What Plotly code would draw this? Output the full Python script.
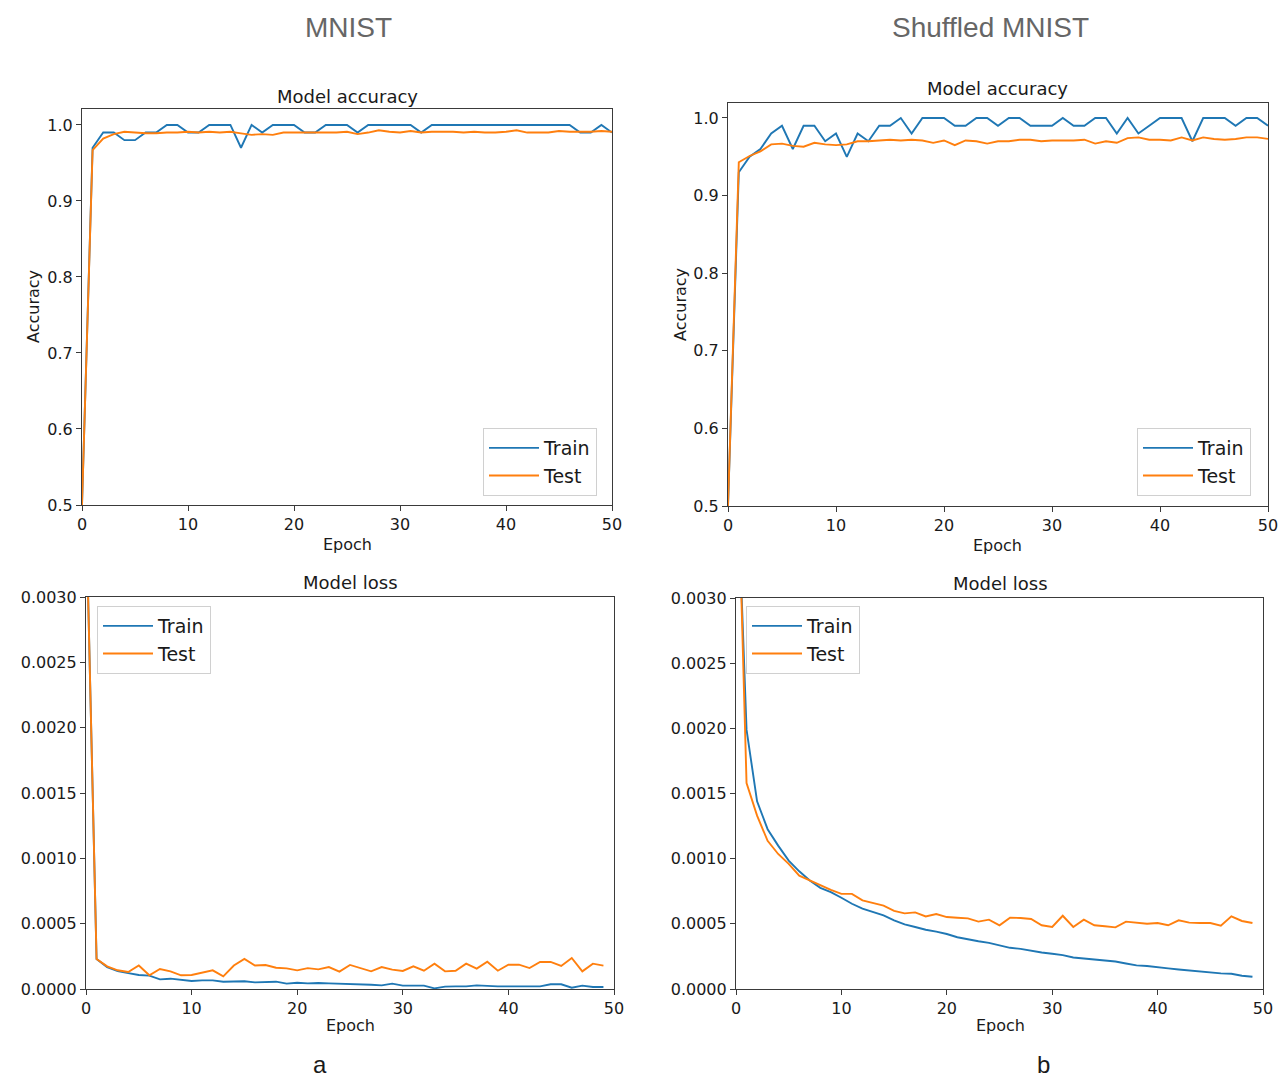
import plotly.graph_objects as go

W, H = 1279, 1078

# ---------------- data ----------------
epochs_acc = list(range(0, 51))
epochs_loss = list(range(0, 50))

mnist_acc_train = [0.5, 0.97, 0.99, 0.99, 0.98, 0.98, 0.99, 0.99, 1.0, 1.0,
                   0.99, 0.99, 1.0, 1.0, 1.0, 0.97, 1.0, 0.99, 1.0, 1.0,
                   1.0, 0.99, 0.99, 1.0, 1.0, 1.0, 0.99, 1.0, 1.0, 1.0,
                   1.0, 1.0, 0.99, 1.0, 1.0, 1.0, 1.0, 1.0, 1.0, 1.0,
                   1.0, 1.0, 1.0, 1.0, 1.0, 1.0, 1.0, 0.99, 0.99, 1.0, 0.99]
mnist_acc_test = [0.5, 0.967, 0.982, 0.988, 0.991, 0.990, 0.989, 0.989, 0.990, 0.990,
                  0.991, 0.990, 0.991, 0.990, 0.991, 0.989, 0.987, 0.988, 0.987, 0.990,
                  0.990, 0.990, 0.990, 0.990, 0.990, 0.991, 0.988, 0.990, 0.993, 0.991,
                  0.990, 0.992, 0.990, 0.991, 0.991, 0.991, 0.990, 0.991, 0.990, 0.990,
                  0.991, 0.993, 0.990, 0.990, 0.990, 0.992, 0.991, 0.991, 0.991, 0.992, 0.991]

shuf_acc_train = [0.5, 0.93, 0.95, 0.96, 0.98, 0.99, 0.96, 0.99, 0.99, 0.97,
                  0.98, 0.95, 0.98, 0.97, 0.99, 0.99, 1.0, 0.98, 1.0, 1.0,
                  1.0, 0.99, 0.99, 1.0, 1.0, 0.99, 1.0, 1.0, 0.99, 0.99,
                  0.99, 1.0, 0.99, 0.99, 1.0, 1.0, 0.98, 1.0, 0.98, 0.99,
                  1.0, 1.0, 1.0, 0.97, 1.0, 1.0, 1.0, 0.99, 1.0, 1.0, 0.99]
shuf_acc_test = [0.5, 0.943, 0.951, 0.957, 0.966, 0.967, 0.964, 0.963, 0.968, 0.966,
                 0.965, 0.966, 0.970, 0.970, 0.971, 0.972, 0.971, 0.972, 0.971, 0.968,
                 0.971, 0.965, 0.971, 0.970, 0.967, 0.970, 0.970, 0.972, 0.972, 0.970,
                 0.971, 0.971, 0.971, 0.972, 0.967, 0.970, 0.968, 0.974, 0.975, 0.972,
                 0.972, 0.971, 0.975, 0.971, 0.975, 0.973, 0.972, 0.973, 0.975, 0.975, 0.973]

mnist_loss_train = [0.0037, 0.00023, 0.000168, 0.000138, 0.000122, 0.000107, 0.000102, 0.000074, 0.000079, 0.000071,
                    0.000061, 0.000066, 0.000066, 0.000056, 0.000056, 0.000059, 0.000051, 0.000054, 0.000056, 0.000041,
                    0.000048, 0.000043, 0.000046, 0.000043, 0.000041, 0.000041, 0.000038, 0.000033, 0.000028, 0.000041,
                    0.000026, 0.000026, 0.000026, 0.000005, 0.000018, 0.00002, 0.00002, 0.000028, 0.000023, 0.00002,
                    0.00002, 0.00002, 0.00002, 0.00002, 0.000036, 0.000036, 0.00001, 0.000026, 0.000015, 0.000015]
mnist_loss_test = [0.0037, 0.00023, 0.000173, 0.000143, 0.00013, 0.00018, 0.000105, 0.000153, 0.000135, 0.000105,
                   0.000107, 0.000125, 0.000143, 0.000097, 0.00018, 0.00023, 0.00018, 0.000184, 0.000163, 0.000158,
                   0.000143, 0.00016, 0.00015, 0.000168, 0.000133, 0.000184, 0.00016, 0.000135, 0.000168, 0.000148,
                   0.000138, 0.000173, 0.00014, 0.000194, 0.000135, 0.00014, 0.000194, 0.000156, 0.000209, 0.00014,
                   0.000186, 0.000186, 0.00016, 0.000207, 0.000207, 0.000176, 0.000237, 0.000135, 0.000194, 0.000179]

shuf_loss_train = [0.0042, 0.00199, 0.00144, 0.001226, 0.0011, 0.000985, 0.000903, 0.000832, 0.000776, 0.000743,
                   0.0007, 0.000654, 0.000616, 0.00059, 0.000565, 0.000527, 0.000496, 0.000476, 0.000455, 0.00044,
                   0.000422, 0.000397, 0.000379, 0.000366, 0.000354, 0.000336, 0.000316, 0.000308, 0.000293, 0.00028,
                   0.00027, 0.00026, 0.000242, 0.000234, 0.000226, 0.000219, 0.000211, 0.000196, 0.000181, 0.000176,
                   0.000165, 0.000158, 0.00015, 0.000142, 0.000137, 0.000125, 0.00012, 0.000117, 0.000102, 0.000094]
shuf_loss_test = [0.0045, 0.00158, 0.00133, 0.001137, 0.001036, 0.00096, 0.00087, 0.000832, 0.0008, 0.00076,
                  0.00073, 0.00073, 0.00068, 0.00066, 0.00064, 0.0006, 0.00058, 0.000588, 0.000557, 0.000575,
                  0.000552, 0.000547, 0.000542, 0.000517, 0.000532, 0.000489, 0.000547, 0.000545, 0.000537, 0.000489,
                  0.000476, 0.000562, 0.000476, 0.000532, 0.000489, 0.000481, 0.000473, 0.000517, 0.000511, 0.000501,
                  0.000506, 0.000489, 0.000527, 0.000509, 0.000506, 0.000506, 0.000486, 0.000557, 0.000522, 0.000506]

acc_ticks = [0.5, 0.6, 0.7, 0.8, 0.9, 1.0]
loss_ticks = [0.0, 0.0005, 0.001, 0.0015, 0.002, 0.0025, 0.003]
epoch_ticks = [0, 10, 20, 30, 40, 50]

BLUE = "#1f77b4"
ORANGE = "#ff7f0e"
FONT = "DejaVu Sans"


def px_x(x):
    return x / W


def px_y(y):
    return 1 - y / H


# panel pixel boxes in page coordinates: (left, top, right, bottom)
panels = {
    "1": (82, 109, 612, 505),
    "2": (728, 103, 1268, 506),
    "3": (86, 597, 614, 989),
    "4": (736, 598, 1263, 989),
}

fig = go.Figure()

series = [
    ("1", epochs_acc, mnist_acc_train, mnist_acc_test, "legend"),
    ("2", epochs_acc, shuf_acc_train, shuf_acc_test, "legend2"),
    ("3", epochs_loss, mnist_loss_train, mnist_loss_test, "legend3"),
    ("4", epochs_loss, shuf_loss_train, shuf_loss_test, "legend4"),
]
for k, xs, tr, te, lg in series:
    xa = "x" if k == "1" else "x" + k
    ya = "y" if k == "1" else "y" + k
    fig.add_trace(go.Scatter(x=xs, y=tr, mode="lines", name="Train",
                             line=dict(color=BLUE, width=1.9), xaxis=xa, yaxis=ya,
                             legend=lg, cliponaxis=True))
    fig.add_trace(go.Scatter(x=xs, y=te, mode="lines", name="Test",
                             line=dict(color=ORANGE, width=1.9), xaxis=xa, yaxis=ya,
                             legend=lg, cliponaxis=True))

axis_common = dict(showline=True, linecolor="#3a3a3a", linewidth=1.2, mirror=True,
                   ticks="outside", ticklen=5, tickcolor="#3a3a3a", showgrid=False,
                   zeroline=False, automargin=False,
                   tickfont=dict(family=FONT, size=16, color="#1a1a1a"))

yranges = {"1": [0.5, 1.021], "2": [0.5, 1.0193], "3": [0, 0.003], "4": [0, 0.003]}
for k, (l, t, r, b) in panels.items():
    xname = "xaxis" if k == "1" else "xaxis" + k
    yname = "yaxis" if k == "1" else "yaxis" + k
    anchor_x = "y" if k == "1" else "y" + k
    anchor_y = "x" if k == "1" else "x" + k
    fig.layout[xname] = dict(domain=[px_x(l), px_x(r)], anchor=anchor_x, range=[0, 50],
                             tickvals=epoch_ticks, **axis_common)
    if k in ("1", "2"):
        ydict = dict(tickvals=acc_ticks, tickformat=".1f")
    else:
        ydict = dict(tickvals=loss_ticks, tickformat=".4f")
    fig.layout[yname] = dict(domain=[px_y(b), px_y(t)], anchor=anchor_y, range=yranges[k],
                             **ydict, **axis_common)

legend_common = dict(bgcolor="rgba(255,255,255,0.85)", bordercolor="#d0d0d0", borderwidth=1,
                     font=dict(family=FONT, size=19, color="#1a1a1a"),
                     xanchor="left", yanchor="top", itemwidth=50, tracegroupgap=0)
fig.update_layout(
    legend=dict(x=px_x(483), y=px_y(428), **legend_common),
    legend2=dict(x=px_x(1137), y=px_y(428), **legend_common),
    legend3=dict(x=px_x(97), y=px_y(606), **legend_common),
    legend4=dict(x=px_x(746), y=px_y(606), **legend_common),
)

annotations = []


def add_text(text, x, y, size, color="#1a1a1a", family=FONT, angle=0):
    annotations.append(dict(text=text, x=px_x(x), y=px_y(y), xref="paper", yref="paper",
                            xanchor="center", yanchor="middle", showarrow=False,
                            textangle=angle,
                            font=dict(family=family, size=size, color=color)))


add_text("MNIST", 348, 27, 28, color="#666666", family="Liberation Sans")
add_text("Shuffled MNIST", 990, 27, 28, color="#666666", family="Liberation Sans")
add_text("Model accuracy", 347, 96, 18)
add_text("Model accuracy", 998, 89, 18)
add_text("Model loss", 350, 582, 18)
add_text("Model loss", 1000, 583, 18)
add_text("Accuracy", 33, 307, 16, angle=-90)
add_text("Accuracy", 680, 305, 16, angle=-90)
add_text("Epoch", 347, 544, 16)
add_text("Epoch", 998, 545, 16)
add_text("Epoch", 350, 1025, 16)
add_text("Epoch", 1000, 1025, 16)
add_text("a", 320, 1064, 24, family="Liberation Sans")
add_text("b", 1043, 1064, 24, family="Liberation Sans")

fig.update_layout(width=W, height=H, margin=dict(l=0, r=0, t=0, b=0, autoexpand=False),
                  paper_bgcolor="white", plot_bgcolor="white",
                  annotations=annotations, showlegend=True)

fig.write_html("out.html", config={"displayModeBar": False},
               post_script="document.body.style.margin='0';document.body.style.overflow='hidden';")
